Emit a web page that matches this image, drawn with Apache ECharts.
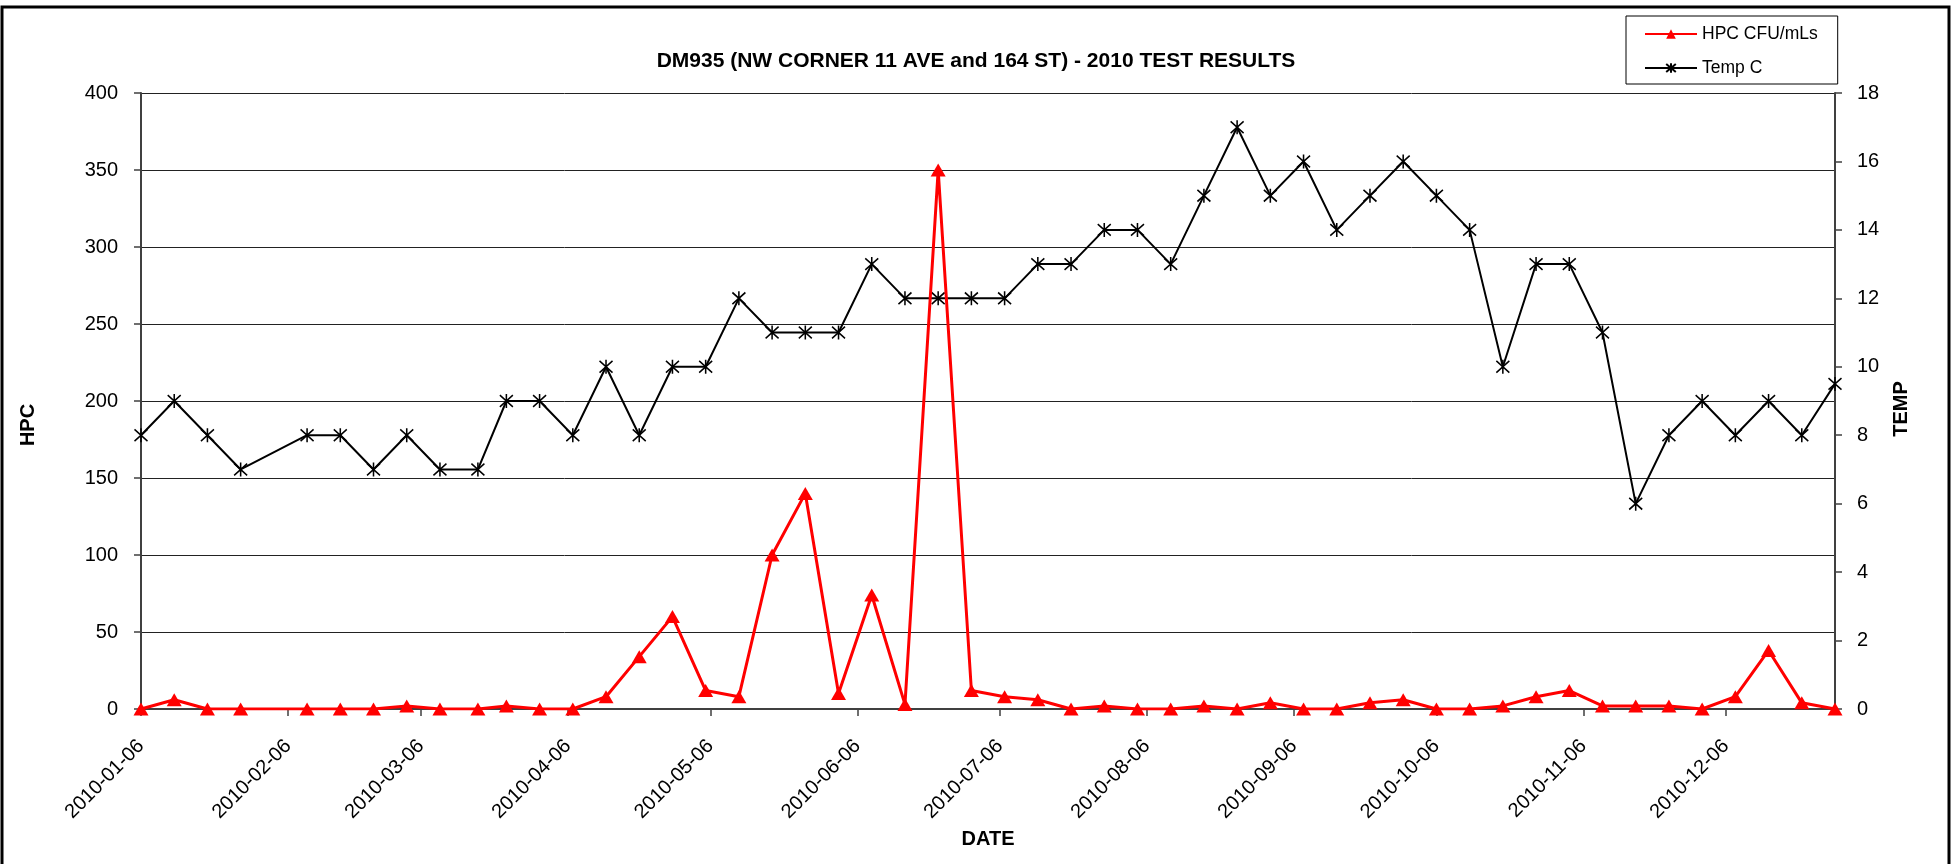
<!DOCTYPE html>
<html>
<head>
    <meta charset="utf-8">
    <title>DM935 - 2010 TEST RESULTS</title>
    <script src="https://cdn.jsdelivr.net/npm/echarts@6/dist/echarts.min.js"></script>
    <style>
        html, body { margin: 0; padding: 0; background: #fff; }
        #chart1 { width: 1952px; height: 864px; }
    </style>
</head>
<body>
<div id="chart1"></div>
<script>
    // sampling dates (weekly)
    var dates = [
        '2010-01-06', '2010-01-13', '2010-01-20', '2010-01-27', '2010-02-10', '2010-02-17',
        '2010-02-24', '2010-03-03', '2010-03-10', '2010-03-18', '2010-03-24', '2010-03-31',
        '2010-04-07', '2010-04-14', '2010-04-21', '2010-04-28', '2010-05-05', '2010-05-12',
        '2010-05-19', '2010-05-26', '2010-06-02', '2010-06-09', '2010-06-16', '2010-06-23',
        '2010-06-30', '2010-07-07', '2010-07-14', '2010-07-21', '2010-07-28', '2010-08-04',
        '2010-08-11', '2010-08-18', '2010-08-25', '2010-09-01', '2010-09-08', '2010-09-15',
        '2010-09-22', '2010-09-29', '2010-10-06', '2010-10-13', '2010-10-20', '2010-10-27',
        '2010-11-03', '2010-11-10', '2010-11-17', '2010-11-24', '2010-12-01', '2010-12-08',
        '2010-12-15', '2010-12-22', '2010-12-29'
    ];
    // HPC CFU/mLs
    var hpc = [
        0, 6, 0, 0, 0, 0,
        0, 2, 0, 0, 2, 0,
        0, 8, 34, 60, 12, 8,
        100, 140, 10, 74, 3, 350,
        12, 8, 6, 0, 2, 0,
        0, 2, 0, 4, 0, 0,
        4, 6, 0, 0, 2, 8,
        12, 2, 2, 2, 0, 8,
        38, 4, 0
    ];
    // Temp C
    var temp = [
        8, 9, 8, 7, 8, 8,
        7, 8, 7, 7, 9, 9,
        8, 10, 8, 10, 10, 12,
        11, 11, 11, 13, 12, 12,
        12, 12, 13, 13, 14, 14,
        13, 15, 17, 15, 16, 14,
        15, 16, 15, 14, 10, 13,
        13, 11, 6, 8, 9, 8,
        9, 8, 9.5
    ];
    // x axis tick labels
    var tickDates = [
        '2010-01-06', '2010-02-06', '2010-03-06', '2010-04-06', '2010-05-06', '2010-06-06',
        '2010-07-06', '2010-08-06', '2010-09-06', '2010-10-06', '2010-11-06', '2010-12-06'
    ];

    function toTime(s) {
        var p = s.split('-');
        return Date.UTC(+p[0], +p[1] - 1, +p[2]);
    }
    function pad(n) {
        return n < 10 ? '0' + n : '' + n;
    }
    function dateToString(t) {
        var d = new Date(t);
        return d.getUTCFullYear() + '-' + pad(d.getUTCMonth() + 1) + '-' + pad(d.getUTCDate());
    }

    var times = dates.map(toTime);
    var tickTimes = tickDates.map(toTime);
    var hpcData = times.map(function (t, i) { return [t, hpc[i]]; });
    var tempData = times.map(function (t, i) { return [t, temp[i]]; });

    var font = 'Liberation Sans, Arial, sans-serif';
    var axisColor = '#404040';
    // asterisk marker: X plus a vertical stroke
    var asterisk = 'path://M0,0L10,10M10,0L0,10M5,-1L5,11';

    var myChart1 = echarts.init(document.getElementById('chart1'));
    myChart1.setOption({
        animation: false,
        backgroundColor: '#fff',
        textStyle: { fontFamily: font },
        title: {
            text: 'DM935 (NW CORNER 11 AVE and 164 ST) - 2010 TEST RESULTS',
            left: 'center',
            top: 46,
            textStyle: { fontFamily: font, fontSize: 21, fontWeight: 'bold', color: '#000' }
        },
        legend: {
            orient: 'vertical',
            left: 1626,
            top: 16,
            padding: [8, 20, 6, 18],
            itemWidth: 52,
            itemHeight: 12,
            itemGap: 14,
            borderColor: '#000',
            borderWidth: 1,
            borderRadius: 0,
            textStyle: { fontFamily: font, fontSize: 17.5, color: '#000', lineHeight: 20 },
            data: ['HPC CFU/mLs', 'Temp C']
        },
        grid: { left: 141, right: 117, top: 93, bottom: 155 },
        xAxis: {
            // dates as timestamps on a value axis, ticks on the 6th of each month
            type: 'value',
            min: times[0],
            max: times[times.length - 1],
            name: 'DATE',
            nameLocation: 'middle',
            nameGap: 120,
            nameTextStyle: { fontFamily: font, fontSize: 20, fontWeight: 'bold', color: '#000' },
            axisLine: { lineStyle: { color: axisColor, width: 2 } },
            axisTick: { show: true, length: 7, lineStyle: { color: axisColor, width: 1.5 }, customValues: tickTimes },
            axisLabel: {
                customValues: tickTimes,
                rotate: 45,
                margin: 34,
                fontFamily: font,
                fontSize: 20,
                color: '#000',
                formatter: function (v) { return dateToString(v); }
            },
            splitLine: { show: false }
        },
        yAxis: [{
            type: 'value',
            min: 0,
            max: 400,
            interval: 50,
            name: 'HPC',
            nameLocation: 'middle',
            nameRotate: 90,
            nameGap: 103,
            nameTextStyle: { fontFamily: font, fontSize: 20, fontWeight: 'bold', color: '#000', padding: [0, 48, 0, 0] },
            axisLine: { show: true, lineStyle: { color: axisColor, width: 2 } },
            axisTick: { show: true, length: 7, lineStyle: { color: axisColor, width: 1.5 } },
            axisLabel: { margin: 23, fontFamily: font, fontSize: 20, color: '#000' },
            splitLine: { show: true, lineStyle: { color: '#222', width: 1 } }
        }, {
            type: 'value',
            position: 'right',
            min: 0,
            max: 18,
            interval: 2,
            name: 'TEMP',
            nameLocation: 'middle',
            nameRotate: 90,
            nameGap: 56,
            nameTextStyle: { fontFamily: font, fontSize: 20, fontWeight: 'bold', color: '#000', padding: [0, 16, 0, 0] },
            axisLine: { show: true, lineStyle: { color: axisColor, width: 2 } },
            axisTick: { show: true, length: 7, lineStyle: { color: axisColor, width: 1.5 } },
            axisLabel: { margin: 22, fontFamily: font, fontSize: 20, color: '#000' },
            splitLine: { show: false }
        }],
        series: [{
            name: 'HPC CFU/mLs',
            type: 'line',
            yAxisIndex: 0,
            z: 3,
            data: hpcData,
            symbol: 'triangle',
            symbolSize: [15, 13],
            color: '#ff0000',
            lineStyle: { color: '#ff0000', width: 3 },
            itemStyle: { color: '#ff0000', borderWidth: 0 }
        }, {
            name: 'Temp C',
            type: 'line',
            yAxisIndex: 1,
            z: 2,
            data: tempData,
            symbol: asterisk,
            symbolSize: [13, 14],
            color: '#000',
            lineStyle: { color: '#000', width: 2 },
            itemStyle: { color: '#000', borderColor: '#000', borderWidth: 1.6 }
        }],
        graphic: [{
            type: 'rect',
            silent: true,
            shape: { x: 2, y: 7, width: 1947, height: 900 },
            style: { fill: null, stroke: '#000', lineWidth: 3 }
        }]
    });
</script>
</body>
</html>
